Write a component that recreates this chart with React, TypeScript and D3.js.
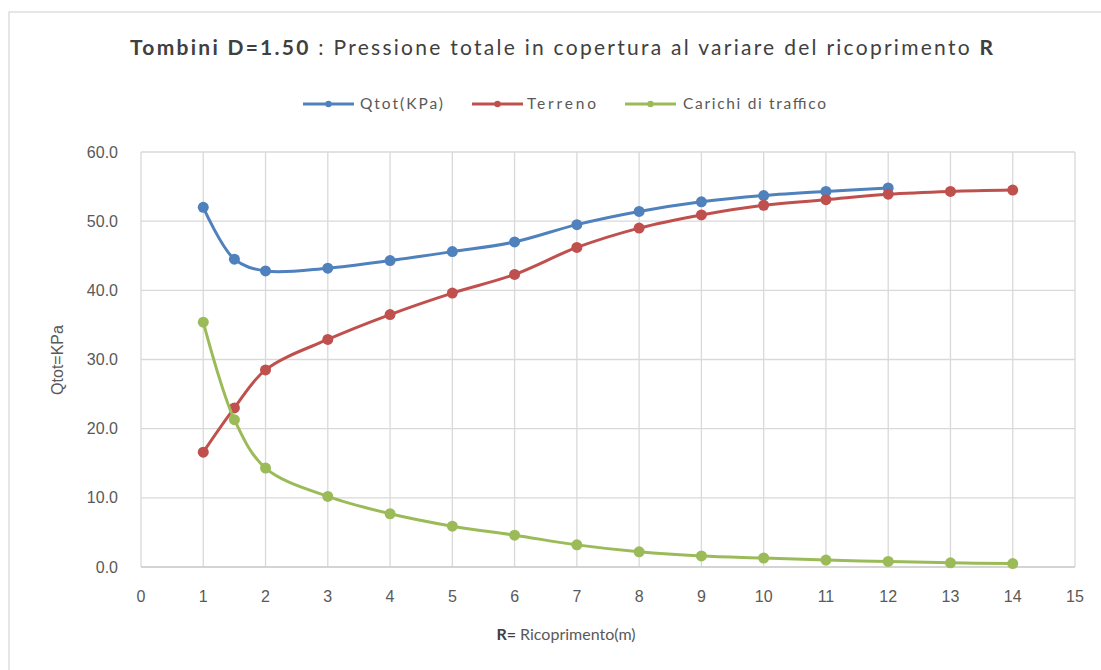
import React, { useEffect } from "react";
import * as d3 from "d3";

const xTicks = [0, 1, 2, 3, 4, 5, 6, 7, 8, 9, 10, 11, 12, 13, 14, 15];
const yTicks = [0, 10, 20, 30, 40, 50, 60];

const qtotX = [1, 1.5, 2, 3, 4, 5, 6, 7, 8, 9, 10, 11, 12];
const qtotY = [52.0, 44.5, 42.8, 43.2, 44.3, 45.6, 47.0, 49.5, 51.4, 52.8, 53.7, 54.3, 54.8];

const terrenoX = [1, 1.5, 2, 3, 4, 5, 6, 7, 8, 9, 10, 11, 12, 13, 14];
const terrenoY = [16.6, 23.0, 28.5, 32.9, 36.5, 39.6, 42.3, 46.2, 49.0, 50.9, 52.3, 53.1, 53.9, 54.3, 54.5];

const trafficoX = [1, 1.5, 2, 3, 4, 5, 6, 7, 8, 9, 10, 11, 12, 13, 14];
const trafficoY = [35.4, 21.3, 14.3, 10.2, 7.7, 5.9, 4.6, 3.2, 2.2, 1.6, 1.3, 1.0, 0.8, 0.6, 0.5];

const seriesNames = ["Qtot(KPa)", "Terreno", "Carichi di traffico"];
const colors = ["#4f81bd", "#c0504d", "#9bbb59"];

export default function App() {
  useEffect(() => {
    document.body.style.margin = "0";
  }, []);

  const W = 1101;
  const H = 670;
  const left = 141;
  const right = 1075;
  const top = 152;
  const bottom = 567;

  const x = d3.scaleLinear().domain([0, 15]).range([left, right]);
  const y = d3.scaleLinear().domain([0, 60]).range([bottom, top]);

  const line = d3
    .line<[number, number]>()
    .x((d) => x(d[0]))
    .y((d) => y(d[1]))
    .curve(d3.curveCatmullRom.alpha(0.5));

  const series = [
    qtotX.map((v, i) => [v, qtotY[i]] as [number, number]),
    terrenoX.map((v, i) => [v, terrenoY[i]] as [number, number]),
    trafficoX.map((v, i) => [v, trafficoY[i]] as [number, number]),
  ];

  const legendItems = [
    { lineX: 303, textX: 360, w: 83 },
    { lineX: 472, textX: 527, w: 69 },
    { lineX: 625, textX: 683, w: 143 },
  ];

  const grid = "#d9d9d9";
  const textCol = "#595959";

  return (
    <svg width={W} height={H} style={{ display: "block" }}>
      <rect x={0} y={0} width={W} height={H} fill="#fff" />
      <rect x={9} y={12} width={W + 20} height={H} fill="none" stroke="#d9d9d9" strokeWidth={1.3} />

      {/* title */}
      <text
        x={130}
        y={55}
        textLength={863}
        lengthAdjust="spacing"
        fontFamily="Lato, 'Open Sans', sans-serif"
        fontSize={21}
        fill="#404040"
      >
        <tspan fontWeight="bold">Tombini D=1.50</tspan>
        <tspan> : Pressione totale in copertura al variare del ricoprimento </tspan>
        <tspan fontWeight="bold">R</tspan>
      </text>

      {/* legend */}
      {seriesNames.map((name, i) => (
        <g key={name}>
          <line
            x1={legendItems[i].lineX}
            x2={legendItems[i].lineX + 51}
            y1={104}
            y2={104}
            stroke={colors[i]}
            strokeWidth={3}
          />
          <circle cx={legendItems[i].lineX + 25.5} cy={104} r={3.2} fill={colors[i]} />
          <text
            x={legendItems[i].textX}
            y={109}
            textLength={legendItems[i].w}
            lengthAdjust="spacing"
            fontFamily="Lato, 'Open Sans', sans-serif"
            fontSize={15.5}
            fill={textCol}
          >
            {name}
          </text>
        </g>
      ))}

      {/* gridlines */}
      {yTicks.map((t) => (
        <line key={"h" + t} x1={left} x2={right} y1={y(t)} y2={y(t)} stroke={grid} strokeWidth={1.3} />
      ))}
      {xTicks.map((t) => (
        <line key={"v" + t} x1={x(t)} x2={x(t)} y1={top} y2={bottom} stroke={grid} strokeWidth={1.3} />
      ))}
      <line x1={left} x2={right} y1={bottom} y2={bottom} stroke="#cfcfcf" strokeWidth={1.5} />

      {/* y tick labels */}
      {yTicks.map((t) => (
        <text
          key={"yl" + t}
          x={118}
          y={y(t) + 5.5}
          textAnchor="end"
          fontFamily="'Liberation Sans', Arial, sans-serif"
          fontSize={16}
          fill={textCol}
        >
          {t.toFixed(1)}
        </text>
      ))}

      {/* x tick labels */}
      {xTicks.map((t) => (
        <text
          key={"xl" + t}
          x={x(t)}
          y={602}
          textAnchor="middle"
          fontFamily="'Liberation Sans', Arial, sans-serif"
          fontSize={16}
          fill={textCol}
        >
          {t}
        </text>
      ))}

      {/* axis titles */}
      <text
        transform={`translate(63,360) rotate(-90)`}
        textAnchor="middle"
        fontFamily="'Liberation Sans', Arial, sans-serif"
        fontSize={16}
        fill={textCol}
      >
        Qtot=KPa
      </text>
      <text
        x={566}
        y={640}
        textAnchor="middle"
        fontFamily="Lato, 'Open Sans', sans-serif"
        fontSize={16}
        fill={textCol}
      >
        <tspan fontWeight="bold" fill="#404040">R=</tspan>
        <tspan> Ricoprimento(m)</tspan>
      </text>

      {/* series */}
      {series.map((s, i) => (
        <g key={"s" + i}>
          <path d={line(s) || ""} fill="none" stroke={colors[i]} strokeWidth={3} />
          {s.map((p, j) => (
            <circle key={j} cx={x(p[0])} cy={y(p[1])} r={5.5} fill={colors[i]} />
          ))}
        </g>
      ))}
    </svg>
  );
}
